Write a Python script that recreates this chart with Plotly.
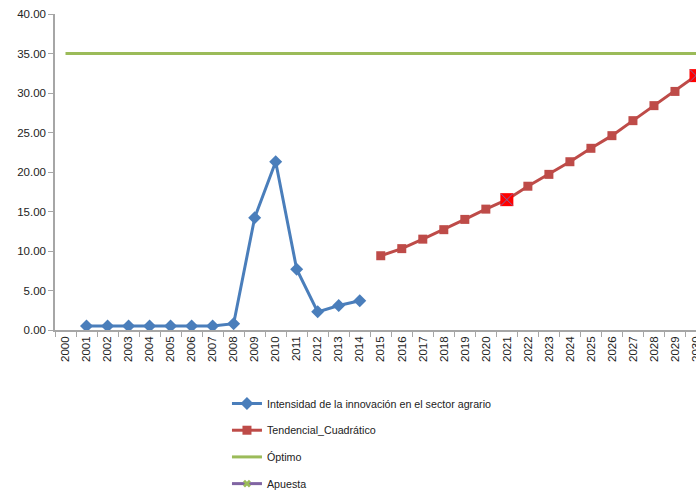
import plotly.graph_objects as go

years = [str(y) for y in range(2000, 2031)]

blue_years = [str(y) for y in range(2001, 2015)]
blue_vals = [0.5, 0.5, 0.5, 0.5, 0.5, 0.5, 0.5, 0.8, 14.2, 21.3, 7.7, 2.3, 3.1, 3.7]

red_years = [str(y) for y in range(2015, 2031)]
red_vals = [9.4, 10.3, 11.5, 12.7, 14.0, 15.3, 16.5, 18.2, 19.7, 21.3, 23.0, 24.6, 26.5, 28.4, 30.2, 32.2]

opt_years = years
opt_vals = [35.0] * len(years)

apuesta_years = ["2021", "2030"]
apuesta_vals = [16.5, 32.2]

y_ticks = [0, 5, 10, 15, 20, 25, 30, 35, 40]
y_tick_text = [f"{v:.2f}" for v in y_ticks]

BLUE = "#4A7EBB"
RED = "#BE4B48"
GREEN = "#9BBB59"
PURPLE = "#8064A2"

fig = go.Figure()
fig.add_trace(go.Scatter(
    x=blue_years, y=blue_vals, mode="lines+markers",
    name="Intensidad de la innovación en el sector agrario",
    line=dict(color=BLUE, width=3),
    marker=dict(symbol="diamond", size=10, color=BLUE),
    legendgroup="a",
))
fig.add_trace(go.Scatter(
    x=red_years, y=red_vals, mode="lines+markers",
    name="Tendencial_Cuadrático",
    line=dict(color=RED, width=3),
    marker=dict(symbol="square", size=9, color=RED),
    legendgroup="b",
))
fig.add_trace(go.Scatter(
    x=opt_years, y=opt_vals, mode="lines",
    name="Óptimo",
    line=dict(color=GREEN, width=3),
    legendgroup="c",
))
# red squares behind the Apuesta crosses
fig.add_trace(go.Scatter(
    x=apuesta_years, y=apuesta_vals, mode="markers",
    marker=dict(symbol="square", size=13, color="#FF0000"),
    showlegend=False, hoverinfo="skip",
))
fig.add_trace(go.Scatter(
    x=apuesta_years, y=apuesta_vals, mode="markers",
    name="Apuesta",
    marker=dict(symbol="x-thin", size=12, color=PURPLE, line=dict(color=PURPLE, width=1)),
    legendgroup="d", showlegend=False,
))
# legend entry for Apuesta (purple line with green cross)
fig.add_trace(go.Scatter(
    x=[None], y=[None], mode="lines+markers",
    name="Apuesta",
    line=dict(color=PURPLE, width=3),
    marker=dict(symbol="x", size=7, color=GREEN),
    legendgroup="d",
))

fig.update_layout(
    width=696, height=491,
    margin=dict(l=54.5, r=0, t=14, b=161, autoexpand=False),
    paper_bgcolor="white", plot_bgcolor="white",
    font=dict(family="Liberation Sans, Arial, sans-serif", size=12, color="#222222"),
    showlegend=True,
    legend=dict(
        xref="container", yref="container",
        x=0.3261, y=0.2077, xanchor="left", yanchor="top",
        orientation="v", traceorder="grouped", tracegroupgap=7.7,
        itemwidth=30,
        font=dict(size=10.7, family="Liberation Sans, Arial, sans-serif", color="#222222"),
        bgcolor="rgba(0,0,0,0)",
    ),
    xaxis=dict(
        type="category", categoryorder="array", categoryarray=years,
        range=[-0.5, 30.0],
        tickangle=-90, tickson="boundaries", ticks="outside", ticklen=5,
        tickcolor="#A6A6A6",
        showline=True, linecolor="#A6A6A6", linewidth=1.5,
        showgrid=False, zeroline=False,
        tickfont=dict(size=11.5), ticklabeloverflow="allow",
    ),
    yaxis=dict(
        range=[0, 40], tickvals=y_ticks, ticktext=y_tick_text,
        ticks="outside", ticklen=5, tickcolor="#A6A6A6",
        showline=True, linecolor="#A6A6A6", linewidth=1.5,
        showgrid=False, zeroline=False,
        tickfont=dict(size=11.5), ticklabeloverflow="allow",
    ),
)

fig.write_html(
    "out.html",
    config={"displayModeBar": False},
    post_script="document.body.style.margin='0';document.body.style.overflow='hidden';",
)
